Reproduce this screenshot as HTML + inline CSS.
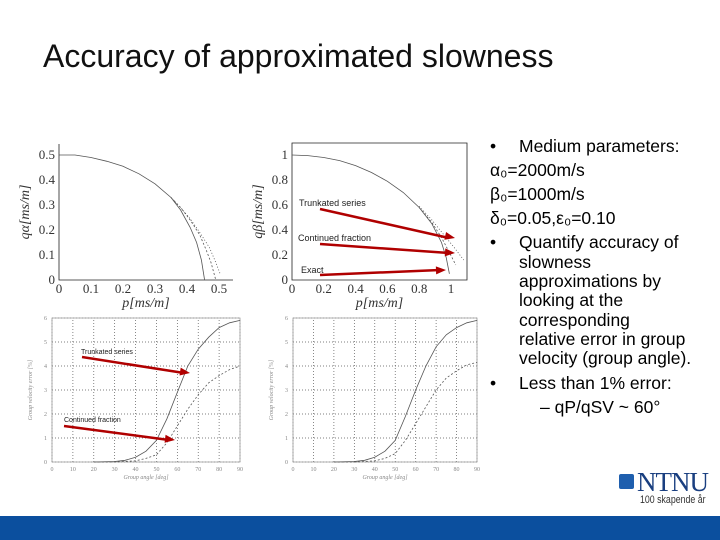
<!DOCTYPE html>
<html><head><meta charset="utf-8"><style>
body{margin:0;width:720px;height:540px;overflow:hidden;background:#fff;font-family:"Liberation Sans",sans-serif;position:relative}
.t{position:absolute;font-size:17.5px;color:#000;white-space:nowrap}
.b{position:absolute;font-size:17.5px;color:#000}
</style></head><body>
<div style="position:absolute;left:43px;top:38px;font-size:32px;color:#111">Accuracy of approximated slowness</div>
<svg id="s" width="720" height="540" style="position:absolute;left:0;top:0" font-family="Liberation Serif, serif"></svg>
<div>
<div class="b" style="left:490px;top:136px">•</div><div class="t" style="left:519px;top:136px">Medium parameters:</div>
<div class="t" style="left:490px;top:160px">α₀=2000m/s</div>
<div class="t" style="left:490px;top:184px">β₀=1000m/s</div>
<div class="t" style="left:490px;top:208px">δ₀=0.05,ε₀=0.10</div>
<div class="b" style="left:490px;top:232px">•</div><div class="t" style="left:519px;top:232px">Quantify accuracy of</div>
<div class="t" style="left:519px;top:252px">slowness</div>
<div class="t" style="left:519px;top:271px">approximations by</div>
<div class="t" style="left:519px;top:290px">looking at the</div>
<div class="t" style="left:519px;top:310px">corresponding</div>
<div class="t" style="left:519px;top:329px">relative error in group</div>
<div class="t" style="left:519px;top:348px">velocity (group angle).</div>
<div class="b" style="left:490px;top:373px">•</div><div class="t" style="left:519px;top:373px">Less than 1% error:</div>
<div class="t" style="left:540px;top:397px">– qP/qSV ~ 60°</div>
</div>
<div style="position:absolute;left:619px;top:474px;width:15px;height:15px;background:#1f5fae;border-radius:2px"></div>
<div style="position:absolute;left:637px;top:467px;font-family:'Liberation Serif',serif;font-size:27px;color:#1a3f80;letter-spacing:-1px">NTNU</div>
<div style="position:absolute;left:640px;top:494px;font-size:11px;color:#333;white-space:nowrap;transform:scaleX(0.8);transform-origin:left">100 skapende år</div>
<div style="position:absolute;left:0;top:516px;width:720px;height:24px;background:#0b4f9e"></div>
<script>
// slowness curves (top-left: qP)
const pA=[0,0.05,0.1,0.15,0.2,0.25,0.3,0.35,0.38,0.41,0.43,0.445,0.455];
const qA_exact=[0.5,0.5,0.49,0.475,0.455,0.425,0.385,0.33,0.28,0.21,0.15,0.08,0];
const pA2=[0.35,0.38,0.41,0.44,0.46,0.475,0.49];
const qA_cf=[0.33,0.29,0.24,0.18,0.12,0.07,0];
const pA3=[0.35,0.38,0.41,0.44,0.47,0.49,0.505];
const qA_tr=[0.33,0.29,0.245,0.19,0.13,0.07,0.02];
// top-right: qSV
const pB=[0,0.1,0.2,0.3,0.4,0.5,0.6,0.7,0.8,0.88,0.94,0.97,0.99];
const qB_exact=[1,0.995,0.98,0.955,0.915,0.86,0.79,0.7,0.58,0.45,0.3,0.18,0.05];
const pB2=[0.8,0.88,0.94,0.99,1.03];
const qB_cf=[0.58,0.46,0.34,0.22,0.12];
const pB3=[0.8,0.88,0.95,1.02,1.08];
const qB_tr=[0.59,0.48,0.37,0.26,0.16];
// group velocity error
const ang=[20,30,35,40,45,50,55,60,65,70,75,80,85,90];
const errL_tr=[0,0.02,0.07,0.2,0.45,0.9,1.8,2.9,4.0,4.7,5.2,5.6,5.8,5.9];
const errL_cf=[0,0,0.02,0.05,0.15,0.3,0.8,1.5,2.2,2.8,3.3,3.6,3.85,4.0];
const errR_tr=[0,0.02,0.07,0.2,0.45,0.9,1.9,3.0,4.0,4.8,5.3,5.6,5.8,5.9];
const errR_cf=[0,0,0.02,0.05,0.15,0.35,0.9,1.6,2.3,3.0,3.5,3.8,4.05,4.15];
const xt1=[0,0.1,0.2,0.3,0.4,0.5], yt1=[0,0.1,0.2,0.3,0.4,0.5];
const xt2=[0,0.2,0.4,0.6,0.8,1], yt2=[0,0.2,0.4,0.6,0.8,1];
const xt3=[0,10,20,30,40,50,60,70,80,90], yt3=[0,1,2,3,4,5,6];

const S=document.getElementById('s'),NS='http://www.w3.org/2000/svg';
function el(t,a,txt){const e=document.createElementNS(NS,t);for(const k in a)e.setAttribute(k,a[k]);if(txt!==undefined)e.textContent=txt;S.appendChild(e);return e;}
function chart(o){
 const X=v=>o.x0+(v-o.xmin)/(o.xmax-o.xmin)*(o.x1-o.x0);
 const Y=v=>o.y0-(v-o.ymin)/(o.ymax-o.ymin)*(o.y0-o.y1);
 if(o.grid){o.xt.forEach(v=>{const g=el('line',{x1:X(v),x2:X(v),y1:o.y0,y2:o.y1,stroke:'#555','stroke-dasharray':'1,2','stroke-width':0.7});

});
 o.yt.forEach(v=>{const g=el('line',{x1:o.x0,x2:o.x1,y1:Y(v),y2:Y(v),stroke:'#555','stroke-dasharray':'1,2','stroke-width':0.7});

});}
 const ax=el('path',{d:o.box?`M${o.x0},${o.y1}V${o.y0}H${o.x1}V${o.y1}Z`:`M${o.x0},${o.y1}V${o.y0}H${o.x1}`,fill:'none',stroke:o.grid?'#999':'#222','stroke-width':0.8});
 
 
 const fs=o.grid?6:13;
 o.xt.forEach(v=>{const t=el('text',{x:X(v),y:o.y0+(o.grid?9:13),'font-size':fs,'text-anchor':'middle',fill:o.grid?'#888':'#333'},String(v));

});
 o.yt.forEach(v=>{const t=el('text',{x:o.x0-(o.grid?5:4),y:Y(v)+(o.grid?2:4),'font-size':fs,'text-anchor':'end',fill:o.grid?'#888':'#333'},String(v));

});
 const xl=el('text',{x:(o.x0+o.x1)/2,y:o.y0+(o.grid?17:27),'font-size':o.grid?6:14,'text-anchor':'middle','font-style':'italic',fill:o.grid?'#888':'#333'},o.xl);
 
 
 const yx=o.x0-(o.grid?20:30),yy=(o.y0+o.y1)/2;
 const yl=el('text',{x:yx,y:yy,'font-size':o.grid?6:14,'text-anchor':'middle','font-style':'italic',fill:o.grid?'#888':'#333',transform:`rotate(-90 ${yx} ${yy})`},o.yl);
 
 
 o.series.forEach(s=>{const d=s.x.map((v,i)=>(i?'L':'M')+X(v).toFixed(1)+','+Y(s.y[i]).toFixed(1)).join('');
 const p=el('path',{d,fill:'none',stroke:'#555','stroke-width':0.8,'stroke-dasharray':s.dash||'none'});
 
 });
}
chart({x0:59,x1:233,y0:280,y1:144,xmin:0,xmax:0.5*174/160,ymin:0,ymax:0.5*136/125,xt:xt1,yt:yt1,xl:'p[ms/m]',yl:'qα[ms/m]',
 series:[{x:pA,y:qA_exact,name:'exact-curve'},{x:pA2,y:qA_cf,dash:'2,2',name:'continued-fraction-curve'},{x:pA3,y:qA_tr,dash:'1,2',name:'truncated-series-curve'}]});
chart({x0:292,x1:467,y0:280,y1:143,box:true,xmin:0,xmax:175/159,ymin:0,ymax:137/125,xt:xt2,yt:yt2,xl:'p[ms/m]',yl:'qβ[ms/m]',
 series:[{x:pB,y:qB_exact,name:'exact-curve'},{x:pB2,y:qB_cf,dash:'2,2',name:'continued-fraction-curve'},{x:pB3,y:qB_tr,dash:'1,2',name:'truncated-series-curve'}]});
chart({x0:52,x1:240,y0:462,y1:318,box:true,grid:true,xmin:0,xmax:90,ymin:0,ymax:6,xt:xt3,yt:yt3,xl:'Group angle [deg]',yl:'Group velocity error [%]',
 series:[{x:ang,y:errL_tr,name:'truncated-error-curve'},{x:ang,y:errL_cf,dash:'2,2',name:'continued-fraction-error-curve'}]});
chart({x0:293,x1:477,y0:462,y1:318,box:true,grid:true,xmin:0,xmax:90,ymin:0,ymax:6,xt:xt3,yt:yt3,xl:'Group angle [deg]',yl:'Group velocity error [%]',
 series:[{x:ang,y:errR_tr,name:'truncated-error-curve'},{x:ang,y:errR_cf,dash:'2,2',name:'continued-fraction-error-curve'}]});
// annotations
function arrow(x1,y1,x2,y2,lbl,lx,ly,fs,name){
 const a=el('line',{x1,y1,x2:x2-6,y2,stroke:'#b00000','stroke-width':2.5});
 
 
 const ang=Math.atan2(y2-y1,x2-x1),c=Math.cos(ang),s=Math.sin(ang);
 const h=el('polygon',{points:`${x2},${y2} ${x2-10*c+4*s},${y2-10*s-4*c} ${x2-10*c-4*s},${y2-10*s+4*c}`,fill:'#b00000'});
 
 
 const t=el('text',{x:lx,y:ly,'font-size':fs,'font-family':'Liberation Sans, sans-serif',fill:'#222'},lbl);
 
 
}
arrow(320,209,455,238,'Trunkated series',299,206,9,'truncated-series');
arrow(320,244,455,253,'Continued fraction',298,241,9,'continued-fraction');
arrow(320,275,446,270,'Exact',301,273,9,'exact');
arrow(82,357,190,373,'Trunkated series',81,354,7,'truncated-series-bottom');
arrow(64,426,175,440,'Continued fraction',64,422,7,'continued-fraction-bottom');
</script>
</body></html>
